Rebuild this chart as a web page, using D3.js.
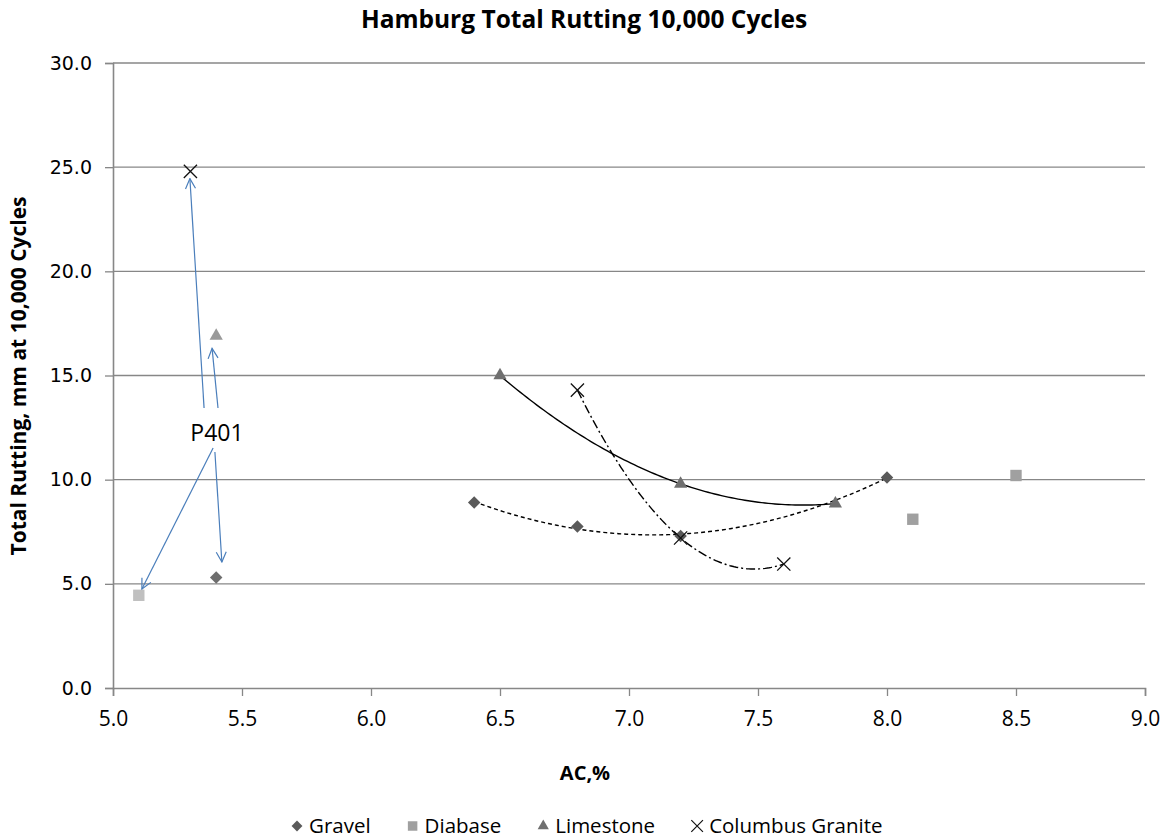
<!DOCTYPE html>
<html>
<head>
<meta charset="utf-8">
<script src="https://cdn.jsdelivr.net/npm/d3@7"></script>
<style>
  html, body { margin: 0; padding: 0; background: #fff; }
  svg { display: block; }
</style>
</head>
<body>
<svg id="chart" width="1171" height="839"></svg>
<script>
// Hamburg wheel-tracking results: total rut depth after 10,000 cycles vs asphalt content
const xTicks = [5.0, 5.5, 6.0, 6.5, 7.0, 7.5, 8.0, 8.5, 9.0];
const yTicks = [0, 5, 10, 15, 20, 25, 30];

const seriesNames = ["Gravel", "Diabase", "Limestone", "Columbus Granite"];

// Mix-design points (AC %, rut mm)
const gravelAC = [6.4, 6.8, 7.2, 8.0];
const gravelRut = [8.9, 7.75, 7.3, 10.1];
const diabaseAC = [8.1, 8.5];
const diabaseRut = [8.1, 10.2];
const limestoneAC = [6.5, 7.2, 7.8];
const limestoneRut = [15.0, 9.8, 8.85];
const graniteAC = [6.8, 7.2, 7.6];
const graniteRut = [14.3, 7.2, 5.95];

// P401 mixes, one per aggregate (order follows seriesNames)
const p401AC = [5.4, 5.1, 5.4, 5.3];
const p401Rut = [5.3, 4.45, 16.9, 24.8];

// Callout arrows from the "P401" label to each P401 point, in data units
const calloutText = "P401";
const calloutPos = [5.403, 11.85];
const arrowFrom = [[5.353, 13.44], [5.407, 13.44], [5.388, 11.52], [5.395, 11.33]];
const arrowTo = [[5.298, 24.45], [5.384, 16.3], [5.112, 4.75], [5.422, 6.05]];

const styles = {
  "Gravel":           { symbol: d3.symbolDiamond2, fill: "#5a5a5a", p401: "#6e6e6e", size: 100, dash: "4,3" },
  "Diabase":          { symbol: d3.symbolSquare2,  fill: "#a0a0a0", p401: "#c0c0c0", size: 165, dash: null },
  "Limestone":        { symbol: d3.symbolTriangle2, fill: "#6f6f6f", p401: "#9a9a9a", size: 125, dash: "" },
  "Columbus Granite": { symbol: d3.symbolX,        fill: "#111", p401: "#111", size: 115, dash: "9,3,2,3" }
};

const data = [
  { name: "Gravel", x: gravelAC, y: gravelRut, trend: true },
  { name: "Diabase", x: diabaseAC, y: diabaseRut, trend: false },
  { name: "Limestone", x: limestoneAC, y: limestoneRut, trend: true },
  { name: "Columbus Granite", x: graniteAC, y: graniteRut, trend: true }
];

const svg = d3.select("#chart");
const W = 1171, H = 839;
const m = { left: 113, right: 26, top: 63, bottom: 151 };

const x = d3.scaleLinear().domain([5, 9]).range([m.left, W - m.right]);
const y = d3.scaleLinear().domain([0, 30]).range([H - m.bottom, m.top]);

const gridColor = "#878787";
const titleFont = "'Open Sans', Lato, sans-serif";

// Horizontal gridlines
svg.append("g")
  .selectAll("line")
  .data(yTicks.filter(v => v > 0))
  .join("line")
  .attr("x1", x(5)).attr("x2", x(9))
  .attr("y1", d => y(d)).attr("y2", d => y(d))
  .attr("stroke", gridColor).attr("stroke-width", 1.3);

// Y axis
const yAxis = svg.append("g")
  .attr("transform", `translate(${x(5)},0)`)
  .call(d3.axisLeft(y).tickValues(yTicks).tickFormat(d3.format(".1f")).tickSize(8).tickPadding(13));
yAxis.select(".domain").attr("stroke", gridColor).attr("stroke-width", 1.6);
yAxis.selectAll(".tick line").attr("stroke", gridColor).attr("stroke-width", 1.3);
yAxis.selectAll("text")
  .attr("font-family", "'DejaVu Sans', sans-serif").attr("font-size", 19).attr("fill", "#000");

// X axis
const xAxis = svg.append("g")
  .attr("transform", `translate(0,${y(0)})`)
  .call(d3.axisBottom(x).tickValues(xTicks).tickFormat(d3.format(".1f")).tickSize(8).tickPadding(15));
xAxis.select(".domain").attr("stroke", gridColor).attr("stroke-width", 1.6);
xAxis.selectAll(".tick line").attr("stroke", gridColor).attr("stroke-width", 1.3);
xAxis.selectAll("text")
  .attr("font-family", titleFont)
  .attr("font-size", 21).attr("fill", "#000");

// Quadratic least-squares trendline
function quadFit(xs, ys) {
  const n = xs.length;
  if (n === 3) {
    // exact parabola through three points
    const [x0, x1, x2] = xs, [y0, y1, y2] = ys;
    return t => y0 * (t - x1) * (t - x2) / ((x0 - x1) * (x0 - x2))
              + y1 * (t - x0) * (t - x2) / ((x1 - x0) * (x1 - x2))
              + y2 * (t - x0) * (t - x1) / ((x2 - x0) * (x2 - x1));
  }
  let s = [0, 0, 0, 0, 0], t = [0, 0, 0];
  for (let i = 0; i < n; i++) {
    let p = 1;
    for (let k = 0; k < 5; k++) { s[k] += p; if (k < 3) t[k] += p * ys[i]; p *= xs[i]; }
  }
  const A = [[s[0], s[1], s[2], t[0]], [s[1], s[2], s[3], t[1]], [s[2], s[3], s[4], t[2]]];
  for (let i = 0; i < 3; i++) {
    for (let j = i + 1; j < 3; j++) {
      const f = A[j][i] / A[i][i];
      for (let k = i; k < 4; k++) A[j][k] -= f * A[i][k];
    }
  }
  const c = [0, 0, 0];
  for (let i = 2; i >= 0; i--) {
    let v = A[i][3];
    for (let k = i + 1; k < 3; k++) v -= A[i][k] * c[k];
    c[i] = v / A[i][i];
  }
  return u => c[0] + c[1] * u + c[2] * u * u;
}

const line = d3.line().x(d => x(d[0])).y(d => y(d[1]));
data.filter(s => s.trend).forEach(s => {
  const f = quadFit(s.x, s.y);
  const lo = d3.min(s.x), hi = d3.max(s.x);
  const pts = d3.range(0, 101).map(i => { const u = lo + (hi - lo) * i / 100; return [u, f(u)]; });
  svg.append("path")
    .attr("d", line(pts))
    .attr("fill", "none")
    .attr("stroke", "#000")
    .attr("stroke-width", 1.4)
    .attr("stroke-dasharray", styles[s.name].dash || null);
});

// Markers
function drawMarker(g, name, cx, cy, color) {
  const st = styles[name];
  const p = g.append("path")
    .attr("d", d3.symbol().type(st.symbol).size(st.size)())
    .attr("transform", `translate(${cx},${cy})`);
  if (st.symbol === d3.symbolX) {
    p.attr("fill", "none").attr("stroke", color).attr("stroke-width", 1.3);
  } else {
    p.attr("fill", color);
  }
}

const marks = svg.append("g");
data.forEach(s => {
  s.x.forEach((v, i) => drawMarker(marks, s.name, x(v), y(s.y[i]), styles[s.name].fill));
});
seriesNames.forEach((name, i) => drawMarker(marks, name, x(p401AC[i]), y(p401Rut[i]), styles[name].p401));

// P401 callout
const arrowColor = "#4a7ebb";
svg.append("defs").append("marker")
  .attr("id", "openArrow")
  .attr("viewBox", "0 0 12 12")
  .attr("refX", 11).attr("refY", 6)
  .attr("markerWidth", 12).attr("markerHeight", 12)
  .attr("markerUnits", "userSpaceOnUse")
  .attr("orient", "auto")
  .append("path")
  .attr("d", "M1,1 L11,6 L1,11")
  .attr("fill", "none").attr("stroke", arrowColor).attr("stroke-width", 1.2);

svg.append("g")
  .selectAll("line")
  .data(arrowFrom.map((f, i) => [f, arrowTo[i]]))
  .join("line")
  .attr("x1", d => x(d[0][0])).attr("y1", d => y(d[0][1]))
  .attr("x2", d => x(d[1][0])).attr("y2", d => y(d[1][1]))
  .attr("stroke", arrowColor).attr("stroke-width", 1.2)
  .attr("marker-end", "url(#openArrow)");

svg.append("text")
  .attr("x", x(calloutPos[0])).attr("y", y(calloutPos[1]))
  .attr("text-anchor", "middle")
  .attr("font-family", titleFont).attr("font-size", 23)
  .attr("fill", "#000")
  .text(calloutText);

// Titles
svg.append("text")
  .attr("x", 584).attr("y", 28)
  .attr("text-anchor", "middle")
  .attr("font-family", titleFont).attr("font-weight", "bold").attr("font-size", 24.5)
  .text("Hamburg Total Rutting 10,000  Cycles");

svg.append("text")
  .attr("x", 585).attr("y", 780)
  .attr("text-anchor", "middle")
  .attr("font-family", titleFont).attr("font-weight", "bold").attr("font-size", 20)
  .text("AC,%");

svg.append("text")
  .attr("transform", `translate(26,${376}) rotate(-90)`)
  .attr("text-anchor", "middle")
  .attr("font-family", titleFont).attr("font-weight", "bold").attr("font-size", 21)
  .text("Total Rutting, mm at 10,000 Cycles");

// Legend
const legend = svg.append("g").attr("transform", "translate(0,826)");
let lx = 291;
seriesNames.forEach(name => {
  const st = styles[name];
  const g = legend.append("g");
  const sz = name === "Diabase" ? 115 : (name === "Gravel" ? 75 : 90);
  const p = g.append("path")
    .attr("d", d3.symbol().type(st.symbol).size(sz)())
    .attr("transform", `translate(${lx + 6},${0})`);
  if (st.symbol === d3.symbolX) p.attr("fill", "none").attr("stroke", "#111").attr("stroke-width", 1.2);
  else p.attr("fill", st.fill);
  const t = g.append("text")
    .attr("x", lx + 18).attr("y", 7)
    .attr("font-family", titleFont).attr("font-size", 20.5)
    .text(name);
  lx += 18 + t.node().getComputedTextLength() + 36;
});
</script>
</body>
</html>
